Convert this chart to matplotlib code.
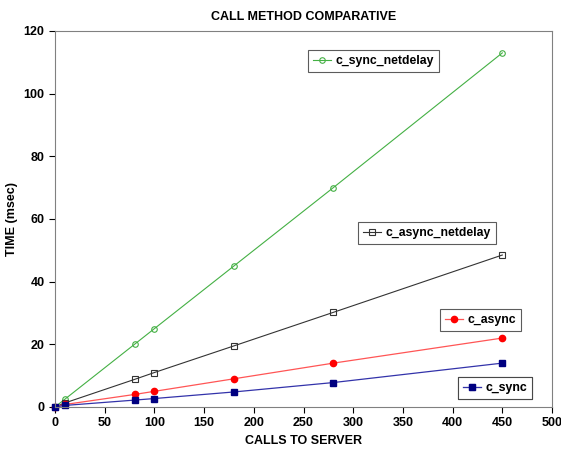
import numpy as np
from matplotlib import pyplot as plt

# data
calls = [0, 10, 80, 100, 180, 280, 450]
c_sync_netdelay = [0, 2.5, 20, 25, 45, 70, 113]
c_async_netdelay = [0, 1.3, 8.8, 11, 19.5, 30.2, 48.5]
c_async = [0, 0.8, 4, 5, 9, 14, 22]
c_sync = [0, 0.5, 2.2, 2.7, 4.8, 7.8, 14]

plt.rcParams['font.family'] = ['Liberation Sans', 'DejaVu Sans']

fig = plt.figure(figsize=(5.61, 4.55), dpi=100)
ax = fig.add_axes([0.098, 0.1055, 0.886, 0.8265])

l1, = ax.plot(calls, c_sync_netdelay, color='#44b044', lw=0.8, marker='o', ms=4,
              mfc='none', mec='#44b044', mew=0.8, label='c_sync_netdelay', clip_on=False)
l2, = ax.plot(calls, c_async_netdelay, color='#333333', lw=0.8, marker='s', ms=5,
              mfc='none', mec='#333333', mew=0.8, label='c_async_netdelay', clip_on=False)
l3, = ax.plot(calls, c_async, color='#ff5555', lw=0.9, marker='o', ms=4.5,
              mfc='red', mec='red', label='c_async', clip_on=False)
l4, = ax.plot(calls, c_sync, color='#3333aa', lw=0.9, marker='s', ms=5,
              mfc='#000080', mec='#000080', label='c_sync', clip_on=False)

ax.set_xlim(0, 500)
ax.set_ylim(0, 120)
ax.set_xticks(range(0, 501, 50))
ax.set_yticks(range(0, 121, 20))
ax.tick_params(labelsize=9, length=4, direction='out')
for lbl in ax.get_xticklabels() + ax.get_yticklabels():
    lbl.set_fontweight('bold')
for s in ax.spines.values():
    s.set_color('#808080')

ax.set_title('CALL METHOD COMPARATIVE', fontsize=9, fontweight='bold', pad=8)
ax.set_xlabel('CALLS TO SERVER', fontsize=9, fontweight='bold')
ax.set_ylabel('TIME (msec)', fontsize=9, fontweight='bold')

# one legend box per line, placed next to it (axes fractions)
boxes = [(l1, (0.509, 0.891)), (l2, (0.610, 0.434)),
         (l3, (0.775, 0.202)), (l4, (0.811, 0.021))]
for line, (bx, by) in boxes:
    leg = ax.legend(handles=[line], loc='lower left', bbox_to_anchor=(bx, by),
                    frameon=True, fancybox=False, handlelength=1.5,
                    handletextpad=0.35, borderpad=0.4, borderaxespad=0,
                    prop={'weight': 'bold', 'size': 8.8})
    leg.get_frame().set_edgecolor('#333333')
    leg.get_frame().set_linewidth(0.8)
    ax.add_artist(leg)

fig.savefig('out.png', dpi=100)
